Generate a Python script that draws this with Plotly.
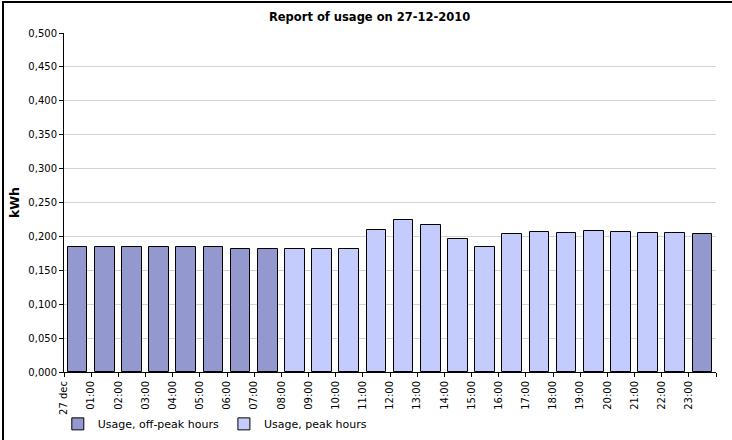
import plotly.graph_objects as go

# ---- data ----
hour_labels = ["27 dec", "01:00", "02:00", "03:00", "04:00", "05:00", "06:00", "07:00",
               "08:00", "09:00", "10:00", "11:00", "12:00", "13:00", "14:00", "15:00",
               "16:00", "17:00", "18:00", "19:00", "20:00", "21:00", "22:00", "23:00"]
usage_kwh = [0.185, 0.184, 0.184, 0.184, 0.184, 0.185, 0.182, 0.182,
             0.182, 0.182, 0.182, 0.210, 0.224, 0.217, 0.196, 0.185,
             0.203, 0.206, 0.2045, 0.2075, 0.206, 0.2045, 0.2045, 0.203]
is_peak = [False] * 8 + [True] * 15 + [False]

series_names = ["Usage, off-peak hours", "Usage, peak hours"]
y_ticks = [0.0, 0.05, 0.1, 0.15, 0.2, 0.25, 0.3, 0.35, 0.4, 0.45, 0.5]

# ---- build ----
n = len(hour_labels)
centers = [i + 0.5 for i in range(n)]
offpeak_vals = [v if not p else None for v, p in zip(usage_kwh, is_peak)]
peak_vals = [v if p else None for v, p in zip(usage_kwh, is_peak)]

FONT = "DejaVu Sans"

fig = go.Figure()
fig.add_trace(go.Bar(x=centers, y=offpeak_vals, name=series_names[0], width=0.72,
                     marker=dict(color="#9398CF", line=dict(color="#000000", width=1))))
fig.add_trace(go.Bar(x=centers, y=peak_vals, name=series_names[1], width=0.72,
                     marker=dict(color="#C4CCFE", line=dict(color="#000000", width=1))))

fig.update_layout(
    width=732, height=440,
    margin=dict(l=64, r=16, t=33, b=68, autoexpand=False),
    paper_bgcolor="white", plot_bgcolor="white",
    barmode="overlay",
    separators=",.",
    font=dict(family=FONT, size=10, color="#000000"),
    title=dict(text="<b>Report of usage on 27-12-2010</b>", x=0.505, xanchor="center",
               y=1 - 17 / 440, yanchor="middle", font=dict(family=FONT, size=11.5, color="#000000")),
    showlegend=True,
    legend=dict(orientation="h", x=-0.0095, xanchor="left", y=-0.153, yanchor="middle",
                font=dict(family=FONT, size=11, color="#000000"),
                itemwidth=30, traceorder="normal", bgcolor="rgba(0,0,0,0)"),
    bargap=0,
)

fig.update_xaxes(
    type="linear", range=[0, n], automargin=False,
    tickmode="array", tickvals=list(range(n + 1)), ticktext=hour_labels + [""],
    tickangle=-90, ticks="outside", ticklen=4, tickcolor="#000000", tickwidth=1,
    showline=True, linecolor="#000000", linewidth=1,
    showgrid=False, zeroline=False,
    tickfont=dict(family=FONT, size=10, color="#000000"),
)
fig.update_yaxes(
    range=[0, 0.5], automargin=False, tickmode="array", tickvals=y_ticks, tickformat=".3f",
    ticks="outside", ticklen=4, tickcolor="#000000", tickwidth=1,
    showline=True, linecolor="#000000", linewidth=1,
    showgrid=True, gridcolor="#D3D3D3", gridwidth=1, zeroline=False,
    tickfont=dict(family=FONT, size=10, color="#000000"),
    title=dict(text="<b>kWh</b>", font=dict(family=FONT, size=12.5, color="#000000"), standoff=5),
)

# frame lines (top and left) of the picture
fig.add_shape(type="line", xref="paper", yref="paper", x0=-62 / 652, x1=1 + 16 / 652,
              y0=1 + 31 / 339, y1=1 + 31 / 339, line=dict(color="#000000", width=2))
fig.add_shape(type="line", xref="paper", yref="paper", x0=-61 / 652, x1=-61 / 652,
              y0=-68 / 339, y1=1 + 32 / 339, line=dict(color="#000000", width=2))

fig.write_html("out.html", config={"displayModeBar": False},
               post_script="document.body.style.margin='0';document.body.style.overflow='hidden';")
